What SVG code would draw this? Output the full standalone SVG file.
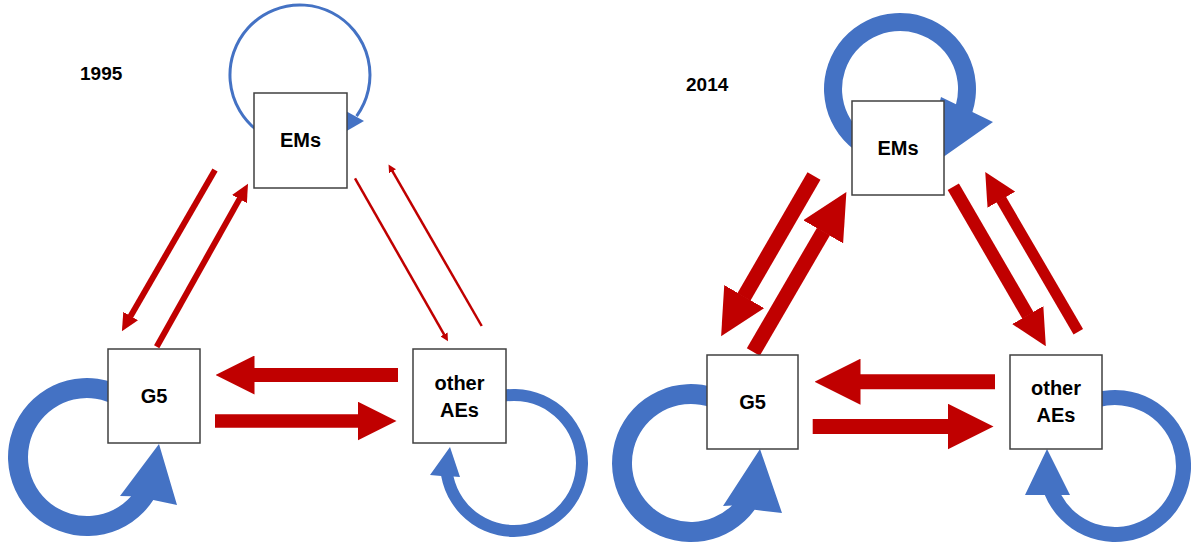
<svg xmlns="http://www.w3.org/2000/svg" width="1191" height="546" viewBox="0 0 1191 546">
<style>
.box{fill:#fff;stroke:#404040;stroke-width:1.5}
.lbl{font-family:"Liberation Sans",Arial,sans-serif;font-weight:bold;font-size:20px;fill:#000;text-anchor:middle}
.yr{font-family:"Liberation Sans",Arial,sans-serif;font-weight:bold;font-size:19px;fill:#000}
.loop{fill:#4472C4}
.red{stroke:#C00000;fill:none}
</style>
<defs>
<marker id="hA" markerUnits="userSpaceOnUse" markerWidth="39" markerHeight="39" viewBox="0 0 39 39" refX="0.5" refY="19.5" orient="auto"><path d="M0,0 L39,19.5 L0,39 Z" fill="#C00000"/></marker>
<marker id="hB" markerUnits="userSpaceOnUse" markerWidth="46" markerHeight="46" viewBox="0 0 46 46" refX="0.5" refY="23" orient="auto"><path d="M0,0 L46,23 L0,46 Z" fill="#C00000"/></marker>
<marker id="hC" markerUnits="userSpaceOnUse" markerWidth="36" markerHeight="36" viewBox="0 0 36 36" refX="0.5" refY="18" orient="auto"><path d="M0,0 L36,18 L0,36 Z" fill="#C00000"/></marker>
<marker id="hD" markerUnits="userSpaceOnUse" markerWidth="32" markerHeight="32" viewBox="0 0 32 32" refX="0.5" refY="16" orient="auto"><path d="M0,0 L32,16 L0,32 Z" fill="#C00000"/></marker>
<marker id="hE" markerUnits="userSpaceOnUse" markerWidth="17.5" markerHeight="17" viewBox="0 0 17.5 17" refX="0.5" refY="8.5" orient="auto"><path d="M0,0 L17.5,8.5 L0,17 Z" fill="#C00000"/></marker>
<marker id="hF" markerUnits="userSpaceOnUse" markerWidth="8" markerHeight="8" viewBox="0 0 8 8" refX="0.5" refY="4" orient="auto"><path d="M0,0 L8,4 L0,8 Z" fill="#C00000"/></marker>
</defs>
<rect width="1191" height="546" fill="#fff"/>
<text class="yr" x="80" y="80">1995</text>
<text class="yr" x="686" y="91">2014</text>
<g id="connectors">
<path d="M287.8,143.9 A70,70 0 1 1 356.6,116.1" fill="none" stroke="#4472C4" stroke-width="3"/>
<polygon points="364,121 344,110 338,136" class="loop"/>
<path class="loop" d="M126.5,388.6 A79,79 0 1 0 153.3,500 L177,505 L159,444 L120,496 L131.1,496.2 A59,59 0 1 1 116.5,405.9 Z"/>
<path class="loop" d="M501.15,390.1 A74,74 0 1 1 441.15,476 L430,475 L450,447 L460,477 L453.5,476.5 A62,62 0 1 0 503.2,401.9 Z"/>
<path class="loop" d="M874,160.4 A76,76 0 1 1 972.4,112.1 L993,122 L922,172 L941,97 L956,104.2 A58,58 0 1 0 880.2,143.5 Z"/>
<path class="loop" d="M730.5,394.6 A79,79 0 1 0 754.7,509.8 L782,513 L760,449 L723,506 L732,505.4 A59,59 0 1 1 720.5,411.9 Z"/>
<path class="loop" d="M1095.3,392.6 A76,76 0 1 1 1044.8,495 L1025,495 L1047,449 L1070,495 L1061.3,495 A61,61 0 1 0 1099.2,407.1 Z"/>
<line class="red" x1="215" y1="170" x2="130.4" y2="316.5" stroke-width="6" marker-end="url(#hE)"/>
<line class="red" x1="156.7" y1="346.7" x2="239.7" y2="198.6" stroke-width="6" marker-end="url(#hE)"/>
<line class="red" x1="355" y1="178.3" x2="444.3" y2="334.8" stroke-width="2.5" marker-end="url(#hF)"/>
<line class="red" x1="481.7" y1="326" x2="392.3" y2="170.9" stroke-width="2.5" marker-end="url(#hF)"/>
<line class="red" x1="398" y1="375" x2="254" y2="375" stroke-width="14" marker-end="url(#hA)"/>
<line class="red" x1="215" y1="421" x2="358" y2="421" stroke-width="13.5" marker-end="url(#hA)"/>
<line class="red" x1="814" y1="176" x2="743.9" y2="297" stroke-width="15" marker-end="url(#hB)"/>
<line class="red" x1="753.3" y1="352" x2="823.5" y2="231.4" stroke-width="15" marker-end="url(#hB)"/>
<line class="red" x1="953.3" y1="186.7" x2="1028" y2="315.5" stroke-width="13" marker-end="url(#hC)"/>
<line class="red" x1="1078.3" y1="331.7" x2="1001.1" y2="199.3" stroke-width="11" marker-end="url(#hD)"/>
<line class="red" x1="995" y1="381.7" x2="860" y2="381.7" stroke-width="15" marker-end="url(#hB)"/>
<line class="red" x1="812.7" y1="426.5" x2="948" y2="426.5" stroke-width="15" marker-end="url(#hB)"/>
</g>
<g id="EMs-1995"><rect class="box" x="254" y="93" width="93" height="95"/><text class="lbl" x="300.5" y="147">EMs</text></g>
<g id="G5-1995"><rect class="box" x="108" y="349" width="92" height="94"/><text class="lbl" x="154" y="403">G5</text></g>
<g id="otherAEs-1995"><rect class="box" x="413" y="349" width="93" height="94"/><text class="lbl" x="459.5" y="390">other</text><text class="lbl" x="459.5" y="416.5">AEs</text></g>
<g id="EMs-2014"><rect class="box" x="852" y="101" width="92" height="94"/><text class="lbl" x="898" y="155">EMs</text></g>
<g id="G5-2014"><rect class="box" x="707" y="355" width="91" height="94"/><text class="lbl" x="752.5" y="409">G5</text></g>
<g id="otherAEs-2014"><rect class="box" x="1010" y="355" width="92" height="94"/><text class="lbl" x="1056" y="395">other</text><text class="lbl" x="1056" y="421.5">AEs</text></g>
</svg>
